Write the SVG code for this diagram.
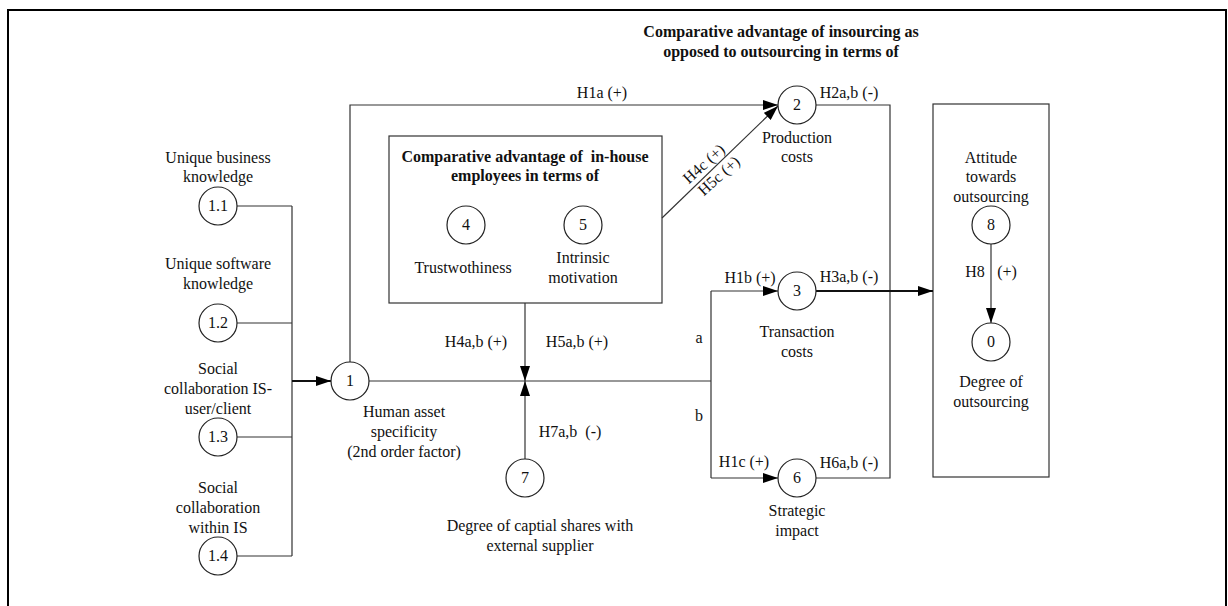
<svg xmlns="http://www.w3.org/2000/svg" width="1228" height="606" viewBox="0 0 1228 606">
<style>
text{font-family:"Liberation Serif","Times New Roman",serif;font-size:16px;fill:#111;text-anchor:middle}
.b{font-weight:bold}
.n{fill:#fff;stroke:#222;stroke-width:1.2}
.ln{fill:none;stroke:#333;stroke-width:1.2}
.th{fill:none;stroke:#111;stroke-width:2.2}
.box{fill:#fff;stroke:#333;stroke-width:1.2}
</style>
<defs>
<marker id="ah" viewBox="0 0 15 10" refX="15" refY="5" markerWidth="15" markerHeight="10" markerUnits="userSpaceOnUse" orient="auto"><path d="M0,0 L15,5 L0,10 z" fill="#000"/></marker>
</defs>
<rect x="0" y="0" width="1228" height="606" fill="#fff"/>
<rect x="8" y="10" width="1218" height="610" fill="none" stroke="#000" stroke-width="2"/>

<text class="b" x="781" y="37">Comparative advantage of insourcing as</text>
<text class="b" x="781" y="57">opposed to outsourcing in terms of</text>

<g id="boxes">
<rect id="box-inhouse" class="box" x="389" y="136" width="273" height="167"/>
<rect id="box-outcome" class="box" x="933" y="104" width="116" height="373"/>
</g>

<g id="connectors">
<path class="ln" d="M237,206 H292 M237,323 H292 M237,437 H292 M237,556 H292 M292,206 V556"/>
<path class="th" d="M292,381 H331" marker-end="url(#ah)"/>
<path class="ln" d="M350,362 V105 H778" marker-end="url(#ah)"/>
<path class="ln" d="M662,218 L778,106" marker-end="url(#ah)"/>
<path class="ln" d="M369,381 H711 M711,291 V478"/>
<path class="ln" d="M711,291 H778" marker-end="url(#ah)"/>
<path class="ln" d="M711,478 H778" marker-end="url(#ah)"/>
<path class="ln" d="M525,303 V381" marker-end="url(#ah)"/>
<path class="ln" d="M525,459 V381" marker-end="url(#ah)"/>
<path class="ln" d="M816,105 H890 V478 H816"/>
<path class="th" d="M816,291 H933" marker-end="url(#ah)"/>
<path class="ln" d="M991,244 V323" marker-end="url(#ah)"/>
<text x="602" y="98">H1a (+)</text>
<text x="849" y="98">H2a,b (-)</text>
<text x="750" y="283">H1b (+)</text>
<text x="849" y="282">H3a,b (-)</text>
<text x="744" y="467">H1c (+)</text>
<text x="849" y="468">H6a,b (-)</text>
<text x="476" y="347">H4a,b (+)</text>
<text x="577" y="347">H5a,b (+)</text>
<text x="570" y="437" xml:space="preserve">H7a,b  (-)</text>
<text x="699" y="343">a</text>
<text x="699" y="421">b</text>
<text x="975" y="277">H8</text>
<text x="1007" y="277">(+)</text>
<text transform="translate(704,164) rotate(-42)" y="5">H4c (+)</text>
<text transform="translate(719,176) rotate(-42)" y="5">H5c (+)</text>
</g>

<g id="n1-1"><text x="218" y="163">Unique business</text><text x="218" y="182">knowledge</text><circle class="n" cx="218" cy="206" r="19"/><text x="218" y="211">1.1</text></g>
<g id="n1-2"><text x="218" y="269">Unique software</text><text x="218" y="289">knowledge</text><circle class="n" cx="218" cy="323" r="19"/><text x="218" y="328">1.2</text></g>
<g id="n1-3"><text x="218" y="374">Social</text><text x="218" y="394">collaboration IS-</text><text x="218" y="414">user/client</text><circle class="n" cx="218" cy="437" r="19"/><text x="218" y="442">1.3</text></g>
<g id="n1-4"><text x="218" y="493">Social</text><text x="218" y="513">collaboration</text><text x="218" y="533">within IS</text><circle class="n" cx="218" cy="556" r="19"/><text x="218" y="561">1.4</text></g>
<g id="n1"><circle class="n" cx="350" cy="381" r="19"/><text x="350" y="386">1</text><text x="404" y="417">Human asset</text><text x="404" y="437">specificity</text><text x="404" y="457">(2nd order factor)</text></g>
<g id="n2"><circle class="n" cx="797" cy="105" r="19"/><text x="797" y="110">2</text><text x="797" y="143">Production</text><text x="797" y="162">costs</text></g>
<g id="n3"><circle class="n" cx="797" cy="291" r="19"/><text x="797" y="296">3</text><text x="797" y="337">Transaction</text><text x="797" y="357">costs</text></g>
<g id="n6"><circle class="n" cx="797" cy="478" r="19"/><text x="797" y="483">6</text><text x="797" y="516">Strategic</text><text x="797" y="536">impact</text></g>
<g id="inhouse"><text class="b" x="525" y="162" xml:space="preserve">Comparative advantage of  in-house</text><text class="b" x="525" y="181">employees in terms of</text></g>
<g id="n4"><circle class="n" cx="466" cy="225" r="19"/><text x="466" y="230">4</text><text x="463" y="273">Trustwothiness</text></g>
<g id="n5"><circle class="n" cx="583" cy="225" r="19"/><text x="583" y="230">5</text><text x="583" y="263">Intrinsic</text><text x="583" y="283">motivation</text></g>
<g id="n7"><circle class="n" cx="525" cy="478" r="19"/><text x="525" y="483">7</text><text x="540" y="531">Degree of captial shares with</text><text x="540" y="551">external supplier</text></g>
<g id="n8"><text x="991" y="163">Attitude</text><text x="991" y="182">towards</text><text x="991" y="202">outsourcing</text><circle class="n" cx="991" cy="225" r="19"/><text x="991" y="230">8</text></g>
<g id="n0"><circle class="n" cx="991" cy="342" r="19"/><text x="991" y="347">0</text><text x="991" y="387">Degree of</text><text x="991" y="407">outsourcing</text></g>
</svg>
